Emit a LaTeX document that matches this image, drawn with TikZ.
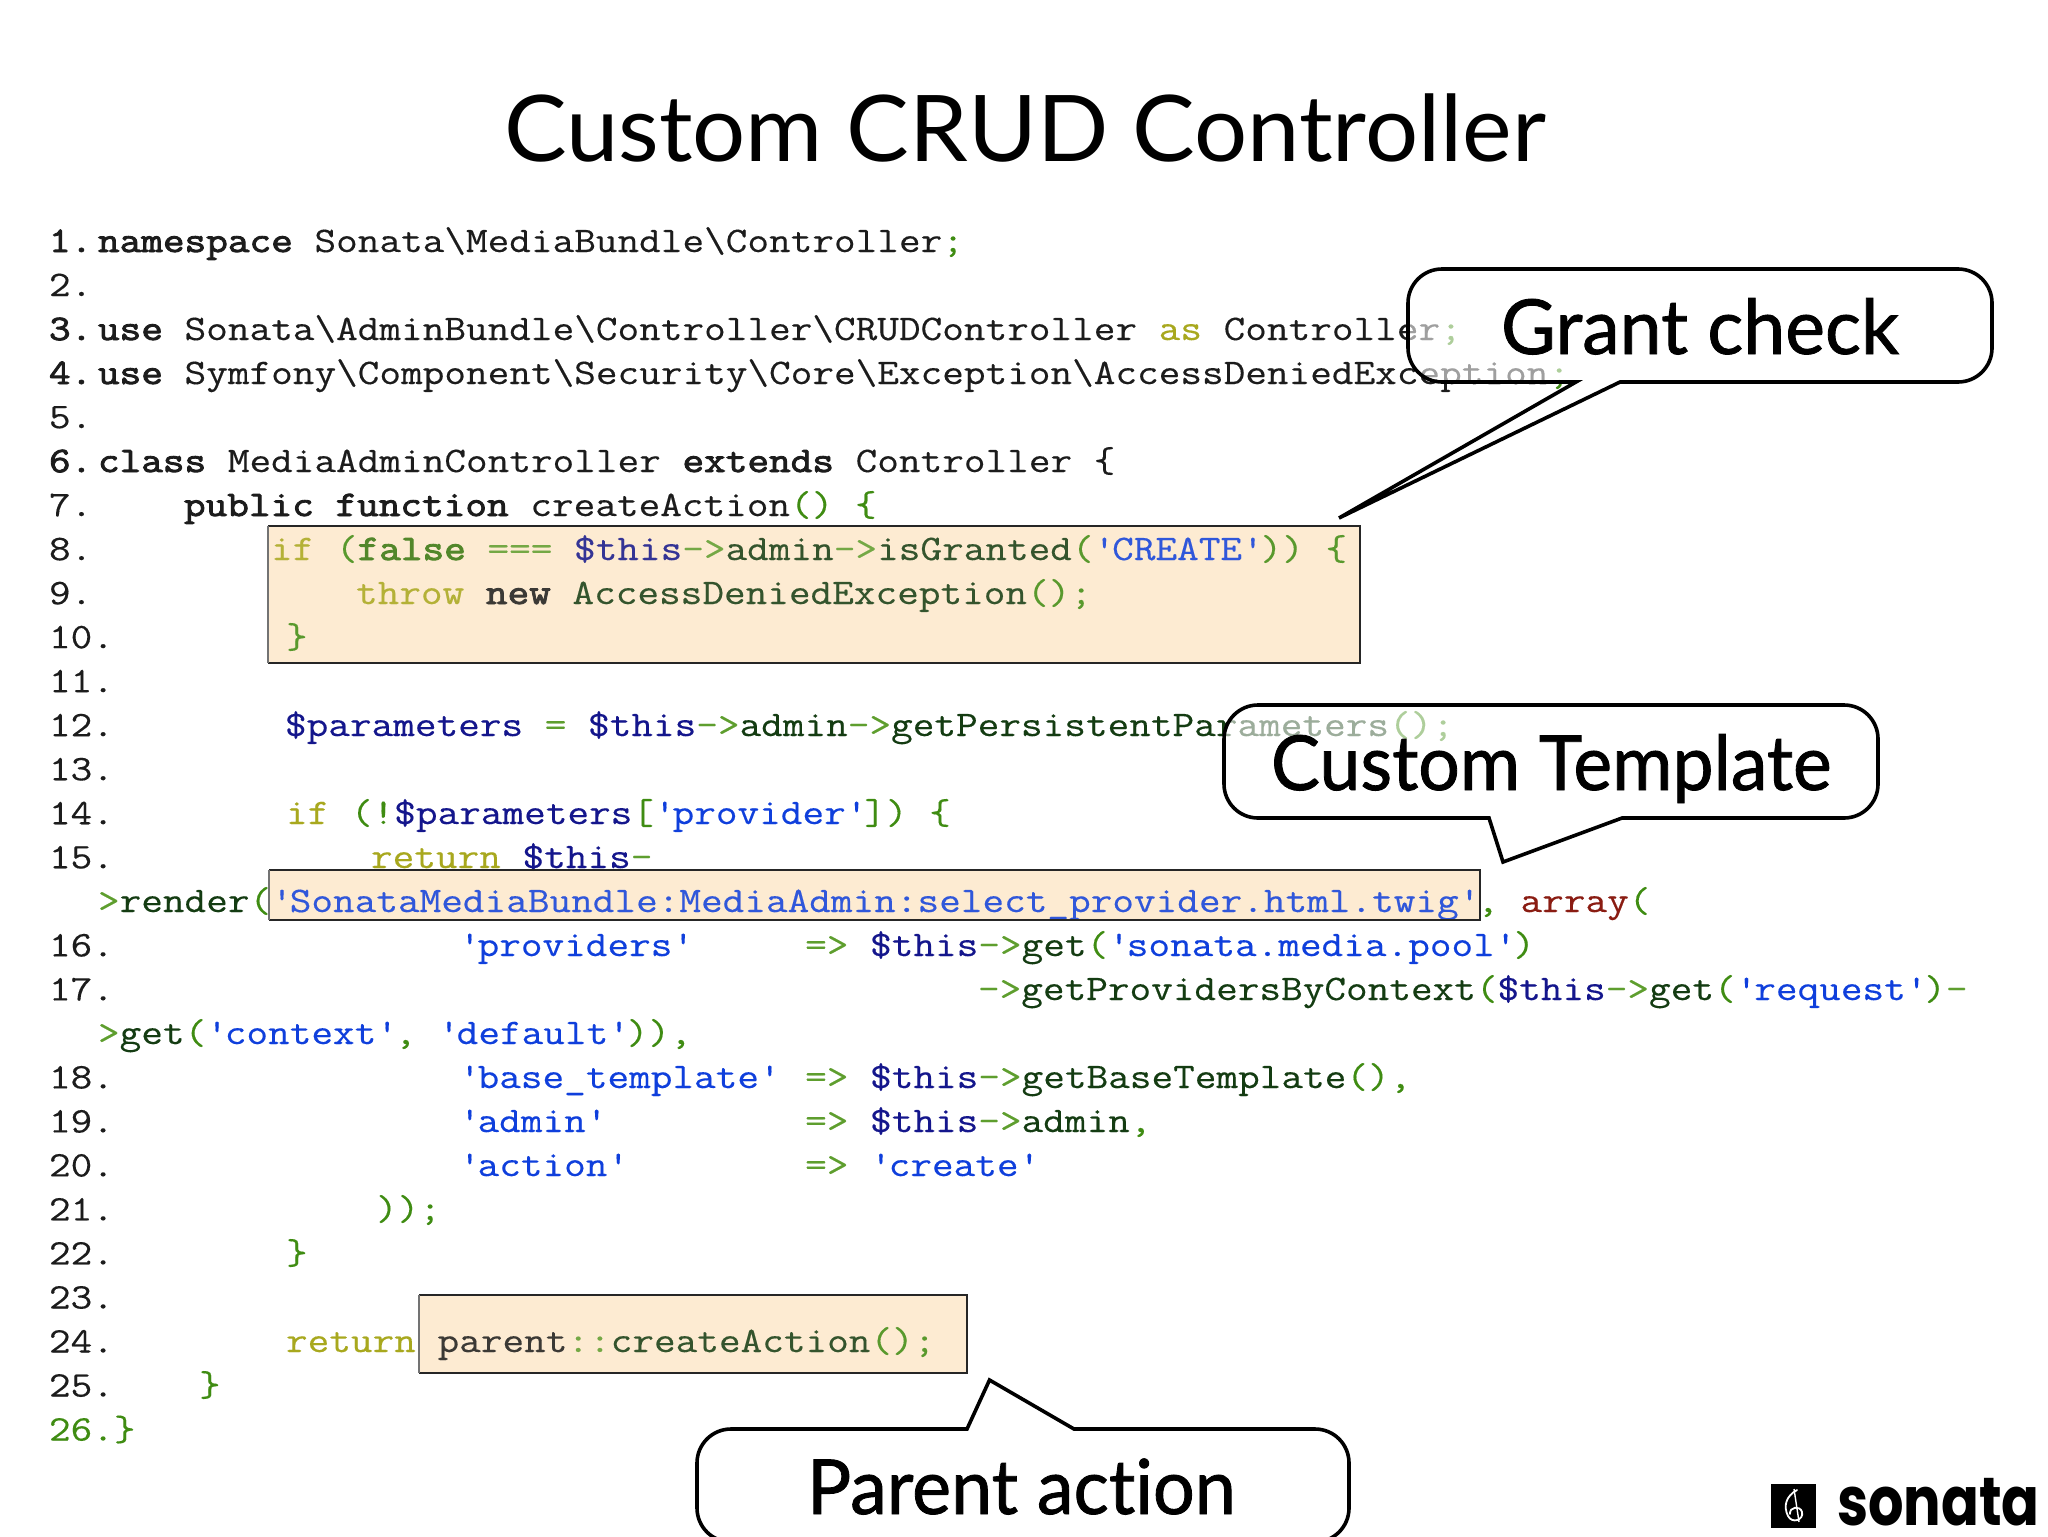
\documentclass[tikz,border=0pt]{standalone}
\usepackage{fontspec}
\usepackage{graphicx}
\setmainfont{Lato}[Ligatures=NoCommon]
\newfontfamily\labelfont{Lato}[Ligatures=NoCommon,FakeBold=1.1]
\newfontfamily\codefont{Latin Modern Mono}[FakeStretch=1.1676,FakeBold=.3,BoldFont={Latin Modern Mono},BoldFeatures={FakeBold=2.4}]
\newfontfamily\logofont{Poppins}
\definecolor{cNum}{HTML}{1C1C1C}
\definecolor{cPh}{HTML}{3F8C12}
\definecolor{cOp}{HTML}{5E9E2E}
\definecolor{cVar}{HTML}{14168C}
\definecolor{cMe}{HTML}{143C12}
\definecolor{cStr}{HTML}{0F3FDC}
\definecolor{cYl}{HTML}{A8A81E}
\definecolor{cRd}{HTML}{8A1C12}
\definecolor{cBox}{HTML}{FDEBD2}
\newcommand{\kw}[1]{\textbf{#1}}
\newcommand{\ph}[1]{\textcolor{cPh}{#1}}
\newcommand{\op}[1]{\textcolor{cOp}{#1}}
\newcommand{\vr}[1]{\textcolor{cVar}{#1}}
\newcommand{\me}[1]{\textcolor{cMe}{#1}}
\newcommand{\yl}[1]{\textcolor{cYl}{#1}}
\newcommand{\rd}[1]{\textcolor{cRd}{#1}}
\newcommand{\str}[1]{\textcolor{cStr}{\textquotesingle#1\textquotesingle}}
\newcommand{\bs}{\textbackslash}
\newcommand{\nudge}{\hspace{3pt}}
\tikzset{
  base/.style={inner sep=0pt,outer sep=0pt,anchor=base west},
  code/.style={base,font=\codefont\fontsize{18}{18}\selectfont,text=cNum},
  hl/.style={fill=cBox,draw=none},
  tint/.style={fill=cBox,fill opacity=.14,draw=none},
  edge/.style={draw=black!85,line width=1.25pt},
  thinedge/.style={draw=black!55,line width=.7pt},
  bubble/.style={draw=black,line width=1.8pt,fill=white,fill opacity=.58,line join=miter},
  label/.style={base,text=black,font=\labelfont\fontsize{38}{38}\selectfont},
}
\begin{document}
\begin{tikzpicture}[x=.5pt,y=-.5pt]
\useasboundingbox (0,0) rectangle (2048,1536);
\fill[white] (0,0) rectangle (2048,1536);

% highlight fills (below the code)
\path[hl] (268,526) coordinate (b1a) rectangle (1360,663) coordinate (b1b);
\path[hl] (269,870) coordinate (b2a) rectangle (1480,920) coordinate (b2b);
\path[hl] (419,1295) coordinate (b3a) rectangle (967,1373) coordinate (b3b);

% title
\node[base,font=\fontsize{46}{46}\selectfont] (title) at (504,162) {\scalebox{1.02}[1]{Custom CRUD Controller}};

% line numbers
\foreach \n/\r in {1/0,2/1,3/2,4/3,5/4,6/5,7/6,8/7,9/8,10/9,11/10,12/11,13/12,14/13,15/14,16/16,17/17,18/19,19/20,20/21,21/22,22/23,23/24,24/25,25/26}{
  \pgfmathsetmacro{\yy}{252+44.02*\r}
  \ifnum\n=1 \def\b{\textbf}\else\ifnum\n=3 \def\b{\textbf}\else\ifnum\n=4 \def\b{\textbf}\else\ifnum\n=6 \def\b{\textbf}\else\def\b{}\fi\fi\fi\fi
  \node[code] (n\n) at (49,\yy) {\b{\n.}};
}
\node[code,text=cPh] (l26) at (49,1440.5) {26.\ph{\}}};

% code
\node[code] (l1) at (98,252) {\kw{namespace} Sonata\bs MediaBundle\bs Controller\ph{;}};
\node[code] (l3) at (98,340) {\kw{use} Sonata\bs AdminBundle\bs Controller\bs CRUDController \yl{as} Controller\ph{;}};
\node[code] (l4) at (98,384) {\kw{use} Symfony\bs Component\bs Security\bs Core\bs Exception\bs AccessDeniedException\ph{;}};
\node[code] (l6) at (98,472) {\kw{class} MediaAdminController \kw{extends} Controller \{};
\node[code] (l7) at (184,516) {\kw{public} \kw{function} createAction\ph{()} \ph{\{}};
\node[code] (l8) at (271,560) {\yl{if} \ph{(}\textcolor{cPh!85!black}{\kw{false}} \op{===} \vr{\$this}\op{->}\me{admin}\op{->}\me{isGranted}\ph{(}\str{CREATE}\ph{))} \ph{\{}};
\node[code] (l9) at (356,604) {\yl{throw} \kw{new} \me{AccessDeniedException}\ph{();}};
\node[code] (l10) at (286,648) {\ph{\}}};
\node[code] (l12) at (285,736) {\vr{\$parameters} \op{=} \vr{\$this}\op{->}\me{admin}\op{->}\me{getPersistentParameters}\ph{();}};
\node[code] (l14) at (286,824) {\yl{if} \ph{(!}\vr{\$parameters}\ph{[}\str{provider}\ph{])} \ph{\{}};
\node[code] (l15) at (371,868) {\yl{return} \vr{\$this}\op{-}};
\node[code] (l15b) at (98,912) {\op{>}\me{render}\ph{(}\str{SonataMediaBundle:MediaAdmin:select\_provider.html.twig}\ph{,} \rd{array}\ph{(}};
\node[code] (l16) at (459,956) {\str{providers}~~~~~\nudge\op{=>} \vr{\$this}\op{->}\me{get}\ph{(}\str{sonata.media.pool}\ph{)}};
\node[code] (l17) at (978,1000) {\op{->}\me{getProvidersByContext}\ph{(}\vr{\$this}\op{->}\me{get}\ph{(}\str{request}\ph{)}\op{-}};
\node[code] (l17b) at (98,1044) {\op{>}\me{get}\ph{(}\str{context}\ph{,} \str{default}\ph{)),}};
\node[code] (l18) at (459,1088) {\str{base\_template} \nudge\op{=>} \vr{\$this}\op{->}\me{getBaseTemplate}\ph{(),}};
\node[code] (l19) at (459,1132) {\str{admin}~~~~~~~~~\nudge\op{=>} \vr{\$this}\op{->}\me{admin}\ph{,}};
\node[code] (l20) at (459,1176) {\str{action}~~~~~~~~\nudge\op{=>} \str{create}};
\node[code] (l21) at (376,1220) {\ph{));}};
\node[code] (l22) at (286,1264) {\ph{\}}};
\node[code] (l24) at (286,1352) {\yl{return} parent\op{::}\me{createAction}\ph{();}};
\node[code] (l25) at (199,1396) {\ph{\}}};

% highlight tint and edges
\path[tint] (b1a) rectangle (b1b);
\path[tint] (b2a) rectangle (b2b);
\path[tint] (b3a) rectangle (b3b);
\draw[edge] (b1a) -- (b1a -| b1b) -- (b1b) -- (b1a |- b1b);
\draw[thinedge] (b1a) -- (b1a |- b1b);
\draw[edge] (b2a) -- (b2a -| b2b) -- (b2b) -- (b2a |- b2b);
\draw[thinedge] (b2a) -- (b2a |- b2b);
\draw[edge] (b3a) -- (b3a -| b3b) -- (b3b) -- (b3a |- b3b);
\draw[thinedge] (b3a) -- (b3a |- b3b);

% callouts
\draw[bubble] (1620,382) [rounded corners=17pt] -- (1992,382) -- (1992,269) -- (1408,269) -- (1408,382) [sharp corners] -- (1576,382) -- (1339,518) -- cycle;
\draw[bubble] (1622,818) [rounded corners=17pt] -- (1878,818) -- (1878,705) -- (1224,705) -- (1224,818) [sharp corners] -- (1489,818) -- (1503,862) -- cycle;
\draw[bubble] (1074,1429) [rounded corners=17pt] -- (1349,1429) -- (1349,1542) -- (697,1542) -- (697,1429) [sharp corners] -- (967,1429) -- (989.5,1380) -- cycle;
\node[label] (grant) at (1501,354) {\scalebox{.99}[1]{Grant check}};
\node[label] (custom) at (1271,790) {\scalebox{.965}[1]{Custom Template}};
\node[label] (parent) at (807,1514) {\scalebox{.97}[1]{Parent action}};

% logo
\fill[black] (1770.5,1484) rectangle (1816,1528);
\draw[white,line width=.9pt,line cap=round] (1797,1490) .. controls (1786,1496) and (1783,1506) .. (1788,1516) .. controls (1792,1524) and (1804,1520) .. (1802,1512) .. controls (1800,1505) and (1789,1507) .. (1790,1514);
\draw[white,line width=.7pt] (1794,1489) -- (1799,1522);
\node[base,font=\logofont\bfseries\fontsize{34}{34}\selectfont] (sonata) at (1837,1525) {\scalebox{.82}[1]{sonata}};
\end{tikzpicture}
\end{document}
